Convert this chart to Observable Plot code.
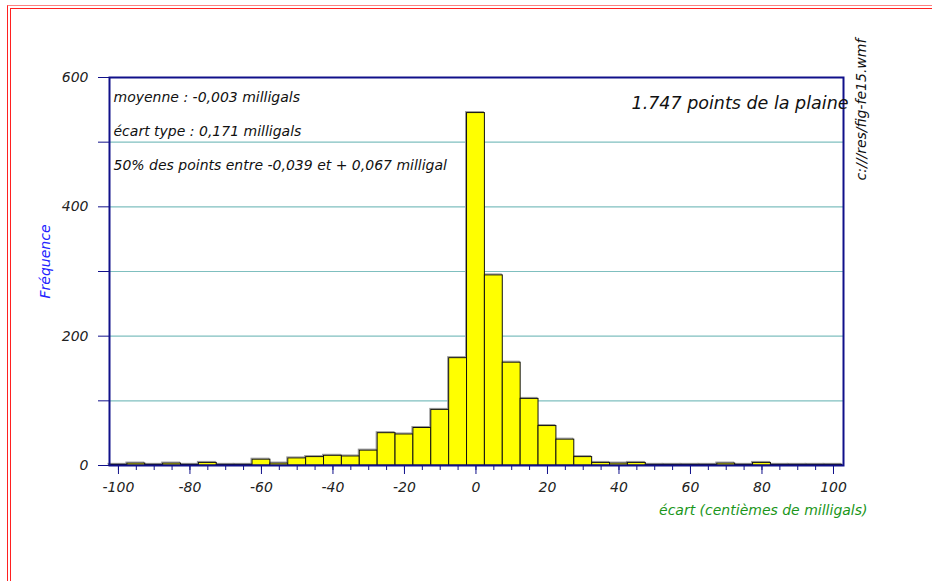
<!DOCTYPE html>
<html>
<head>
<meta charset="utf-8">
<script src="https://cdn.jsdelivr.net/npm/d3@7"></script>
<script src="https://cdn.jsdelivr.net/npm/@observablehq/plot@0.6"></script>
<style>
  html, body { margin: 0; padding: 0; background: #fff; overflow: hidden; }
  #wrap { position: relative; width: 932px; height: 581px; overflow: hidden; }
  .bord { position: absolute; width: 960px; height: 600px; border-left: 1px solid #ff2020; border-top: 1px solid #ff2020; pointer-events: none; }
  #b1 { left: 7px; top: 5px; border-top-color: #ff8080; }
  #b2 { left: 10px; top: 8px; }
  svg { display: block; }
</style>
</head>
<body>
<div id="wrap">
  <div id="chart"></div>
  <div class="bord" id="b1"></div>
  <div class="bord" id="b2"></div>
</div>
<script>
// Histogram bins (centres, in hundredths of milligal) and counts
const binCenters = [-100,-95,-90,-85,-80,-75,-70,-65,-60,-55,-50,-45,-40,-35,-30,-25,-20,-15,-10,-5,0,5,10,15,20,25,30,35,40,45,50,55,60,65,70,75,80,85,90,95,100];
const counts     = [1,3,1,3,1,4,1,1,9,3,11,13,15,14,23,50,48,58,86,166,545,294,159,103,61,40,13,4,3,4,1,1,1,1,3,1,4,1,1,1,1];
const binWidth = 5;

const xMajorTicks = [-100,-80,-60,-40,-20,0,20,40,60,80,100];
const xMinorTicks = [-100,-95,-90,-85,-80,-75,-70,-65,-60,-55,-50,-45,-40,-35,-30,-25,-20,-15,-10,-5,0,5,10,15,20,25,30,35,40,45,50,55,60,65,70,75,80,85,90,95,100];
const yTicks = [0,100,200,300,400,500,600];
const yLabelled = [0,200,400,600];
const gridValues = [100,200,300,400,500];

const statLines = [
  "moyenne : -0,003 milligals",
  "écart type : 0,171 milligals",
  "50% des points entre -0,039 et + 0,067 milligal"
];
const titleText = "1.747 points de la plaine";
const fileText = "c:///res/fig-fe15.wmf";
const yLabel = "Fréquence";
const xLabel = "écart (centièmes de milligals)";

const bins = binCenters.map((c, i) => ({x1: c - binWidth / 2, x2: c + binWidth / 2, y: counts[i]}));

const font = "DejaVu Sans";
const chart = Plot.plot({
  width: 932,
  height: 581,
  marginLeft: 109,
  marginRight: 89,
  marginTop: 77,
  marginBottom: 116,
  x: {domain: [-102.5, 102.8]},
  y: {domain: [0, 600]},
  style: {fontFamily: font, fontStyle: "italic", fontSize: "14px", background: "transparent", overflow: "visible"},
  marks: [
    Plot.ruleY(gridValues, {stroke: "#7fbfbf", strokeWidth: 1.2}),
    Plot.rectY(bins, {x1: "x1", x2: "x2", y: "y", fill: "none", stroke: "#999", strokeWidth: 1, dx: -1, dy: -1}),
    Plot.rectY(bins, {x1: "x1", x2: "x2", y: "y", fill: "#ffff00", stroke: "#111", strokeWidth: 1}),
    Plot.frame({stroke: "#10108a", strokeWidth: 2}),
    Plot.axisY({ticks: yTicks, tickSize: 11, tickPadding: 10, stroke: "#10108a", fill: "#222", label: null,
      tickFormat: d => yLabelled.includes(d) ? String(d) : "", fontSize: 14}),
    Plot.axisX({ticks: xMinorTicks, tickSize: 5, stroke: "#10108a", label: null, tickFormat: () => ""}),
    Plot.axisX({ticks: xMajorTicks, tickSize: 9, tickPadding: 8, stroke: "#10108a", fill: "#222", label: null,
      tickFormat: d => String(d), fontSize: 14}),
    Plot.text([statLines[0]], {frameAnchor: "top-left", dx: 4, dy: 15, textAnchor: "start", fill: "#111", fontSize: 14}),
    Plot.text([statLines[1]], {frameAnchor: "top-left", dx: 4, dy: 49, textAnchor: "start", fill: "#111", fontSize: 14}),
    Plot.text([statLines[2]], {frameAnchor: "top-left", dx: 4, dy: 83, textAnchor: "start", fill: "#111", fontSize: 14}),
    Plot.text([titleText], {frameAnchor: "top-right", dx: 5, dy: 19, textAnchor: "end", fill: "#111", fontSize: 17.5}),
    Plot.text([fileText], {frameAnchor: "top-right", dx: 13, dy: 32, rotate: -90, textAnchor: "middle", fill: "#111", fontSize: 14}),
    Plot.text([yLabel], {frameAnchor: "left", dx: -64, dy: -10, rotate: -90, textAnchor: "middle", fill: "#2222ff", fontSize: 14}),
    Plot.text([xLabel], {frameAnchor: "bottom-right", dx: 24, dy: 49, textAnchor: "end", fill: "#1a961a", fontSize: 14})
  ]
});
document.getElementById("chart").appendChild(chart);
</script>
</body>
</html>
